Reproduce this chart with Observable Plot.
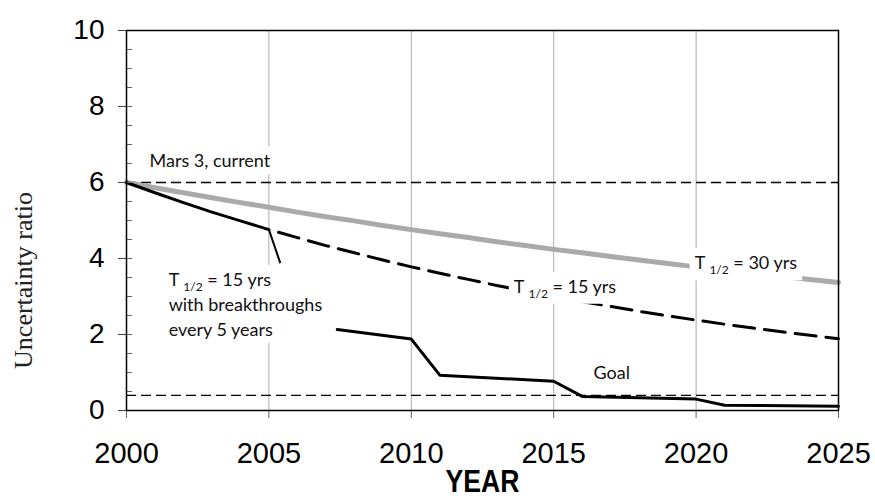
<!DOCTYPE html>
<html><head><meta charset="utf-8">
<script src="https://cdn.jsdelivr.net/npm/d3@7"></script>
<script src="https://cdn.jsdelivr.net/npm/@observablehq/plot@0.6"></script>
<style>
body{margin:0;background:#fff;}
</style></head><body>
<div id="chart"></div>
<script>
// ---- data ----
const yearsT30 = [2000,2001,2002,2003,2004,2005,2006,2007,2008,2009,2010,2011,2012,2013,2014,2015,2016,2017,2018,2019,2020,2021,2022,2023,2024,2025];
const valuesT30 = [6.00,5.86,5.73,5.60,5.47,5.35,5.22,5.10,4.99,4.87,4.76,4.65,4.55,4.44,4.34,4.24,4.15,4.05,3.96,3.87,3.78,3.69,3.61,3.53,3.45,3.37];
const yearsT15Solid = [2000,2001,2002,2003,2004,2005];
const valuesT15Solid = [6.00,5.73,5.47,5.22,4.99,4.76];
const yearsT15Dashed = [2005,2006,2007,2008,2009,2010,2011,2012,2013,2014,2015,2016,2017,2018,2019,2020,2021,2022,2023,2024,2025];
const valuesT15Dashed = [4.76,4.55,4.34,4.15,3.96,3.78,3.61,3.45,3.29,3.14,3.00,2.86,2.74,2.61,2.49,2.38,2.27,2.17,2.07,1.98,1.89];
const yearsBreak = [2007.4,2010,2011,2015,2016,2020,2021,2025];
const valuesBreak = [2.13,1.88,0.93,0.77,0.37,0.30,0.14,0.11];
const refLevels = [6, 0.4];            // Mars 3 current, Goal
const gridYears = [2005,2010,2015,2020];
const xTicks = [2000,2005,2010,2015,2020,2025];
const yTicks = [0,2,4,6,8,10];
const yMinorTicks = [0,0.5,1,1.5,2,2.5,3,3.5,4,4.5,5,5.5,6,6.5,7,7.5,8,8.5,9,9.5,10];
const labelTexts = ["Mars 3, current","T 1/2 = 30 yrs","T 1/2 = 15 yrs","T 1/2 = 15 yrs","with breakthroughs","every 5 years","Goal"];
const labelX = [2000.81, 2019.95, 2013.6, 2001.48, 2001.48, 2001.48, 2016.4];
const labelY = [6.55, 3.87, 3.25, 3.43, 2.76, 2.12, 0.97];
const leaderX1 = [2005], leaderY1 = [4.76], leaderX2 = [2005.4], leaderY2 = [3.88];

const toRows = (xs, ys) => xs.map((x, i) => ({x, y: ys[i]}));
const labels = labelTexts.map((t, i) => ({t, x: labelX[i], y: labelY[i]}));
const leader = leaderX1.map((x1, i) => ({x1, y1: leaderY1[i], x2: leaderX2[i], y2: leaderY2[i]}));

const plot = Plot.plot({
  width: 875, height: 498,
  marginLeft: 126, marginRight: 37, marginTop: 30, marginBottom: 88,
  x: {domain: [2000, 2025]},
  y: {domain: [0, 10]},
  style: {fontFamily: "'Liberation Sans', Arial, sans-serif", background: "white", color: "black"},
  marks: [
    Plot.ruleX(gridYears, {stroke: "#aaa", strokeWidth: 1}),
    Plot.ruleY(refLevels, {stroke: "#000", strokeWidth: 1.3, strokeDasharray: "10,5"}),
    Plot.line(toRows(yearsT30, valuesT30), {x: "x", y: "y", stroke: "#aaa", strokeWidth: 5}),
    Plot.line(toRows(yearsT15Dashed, valuesT15Dashed), {x: "x", y: "y", stroke: "#000", strokeWidth: 3, strokeDasharray: "21,10", strokeDashoffset: 21}),
    Plot.line(toRows(yearsT15Solid, valuesT15Solid), {x: "x", y: "y", stroke: "#000", strokeWidth: 3}),
    Plot.line(toRows(yearsBreak, valuesBreak), {x: "x", y: "y", stroke: "#000", strokeWidth: 3}),
    Plot.link(leader, {x1: "x1", y1: "y1", x2: "x2", y2: "y2", stroke: "#000", strokeWidth: 2}),
    Plot.text(labels, {x: "x", y: "y", text: "t", textAnchor: "start", lineAnchor: "middle", fontSize: 18, fontFamily: "Lato, 'Noto Sans', sans-serif", fill: "#111"}),
    Plot.tickY(yMinorTicks, {y: d => d, insetRight: 706, stroke: "#666", strokeWidth: 1}),
    Plot.axisY(yTicks, {tickSize: 8, tickPadding: 14, fontSize: 28, label: null, stroke: "#444"}),
    Plot.axisX(xTicks, {tickSize: 8, tickPadding: 24, fontSize: 29, label: null, tickFormat: d => String(d), stroke: "#666"}),
    Plot.text(["Uncertainty ratio"], {frameAnchor: "left", textAnchor: "middle", lineAnchor: "middle", rotate: -90, dx: -103, dy: 60, fontSize: 26, fontFamily: "'Liberation Serif', 'Times New Roman', serif", fill: "#222"}),
    Plot.text(["YEAR"], {frameAnchor: "bottom", textAnchor: "middle", lineAnchor: "middle", dy: 71, fontSize: 32, fontWeight: "bold", fill: "#000"}),
    Plot.frame({stroke: "#000", strokeWidth: 1.5})
  ]
});
document.getElementById("chart").append(plot);

// post-processing: subscripts, white label boxes, condensed YEAR
const NS = "http://www.w3.org/2000/svg";
const root = plot.tagName.toLowerCase() === "svg" ? plot : plot.querySelector("svg");
const labelSet = new Set(labelTexts);
const boxes = [];
root.querySelectorAll("text").forEach(el => {
  const s = el.textContent;
  if (s === "YEAR") {
    el.setAttribute("textLength", 74);
    el.setAttribute("lengthAdjust", "spacingAndGlyphs");
    return;
  }
  if (!labelSet.has(s)) return;
  const m = s.match(/^T 1\/2(.*)$/);
  if (m) {
    el.textContent = "";
    el.append(document.createTextNode("T "));
    const sub = document.createElementNS(NS, "tspan");
    sub.setAttribute("font-size", "12"); sub.setAttribute("dy", "5"); sub.textContent = "1/2";
    const rest = document.createElementNS(NS, "tspan");
    rest.setAttribute("dy", "-5"); rest.textContent = m[1];
    el.append(sub, rest);
  }
  boxes.push({el, b: el.getBBox(), tr: el.getAttribute("transform")});
});
boxes.forEach(({el, b, tr}) => {
  const r = document.createElementNS(NS, "rect");
  r.setAttribute("x", b.x - 5); r.setAttribute("y", b.y - 3);
  r.setAttribute("width", b.width + 10); r.setAttribute("height", b.height + 6);
  r.setAttribute("fill", "white");
  if (tr) r.setAttribute("transform", tr);
  el.parentNode.insertBefore(r, el.parentNode.firstChild);
});
</script>
</body></html>
